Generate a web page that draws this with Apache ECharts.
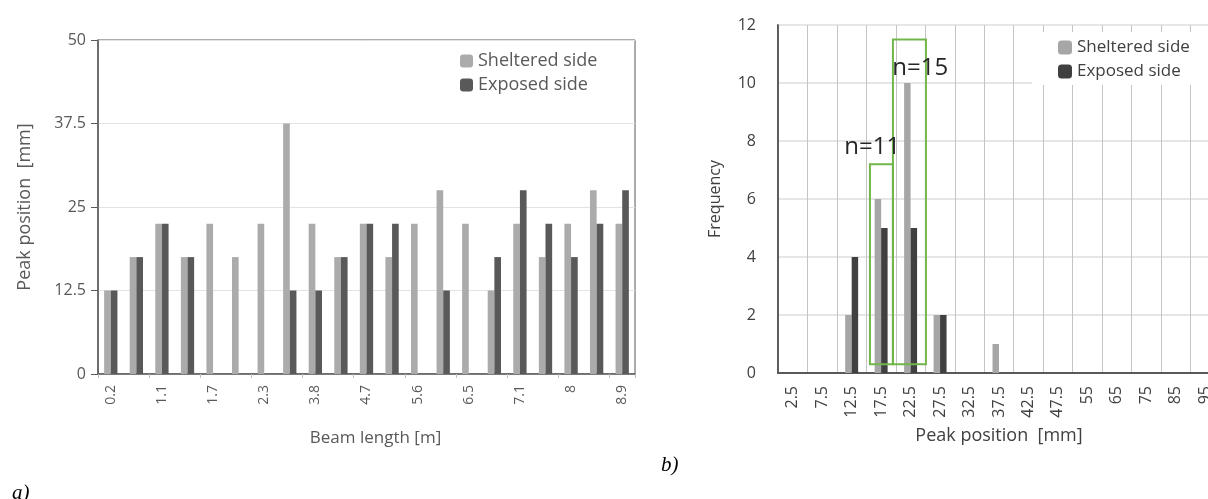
<!DOCTYPE html>
<html>
<head>
<meta charset="utf-8">
<script src="https://cdn.jsdelivr.net/npm/echarts@6/dist/echarts.min.js"></script>
<style>
html,body{margin:0;padding:0;background:#fff;}
#wrap{position:relative;width:1208px;height:499px;overflow:hidden;}
#a{position:absolute;left:0;top:0;width:650px;height:499px;}
#b{position:absolute;left:650px;top:0;width:570px;height:499px;}
</style>
</head>
<body>
<div id="wrap"><div id="a"></div><div id="b"></div></div>
<script>
// ---- Chart a) data ----
const beamLengths = ['0.2','0.5','1.1','1.4','1.7','2','2.3','3.5','3.8','4.1','4.7','5','5.6','5.9','6.5','6.8','7.1','7.7','8','8.3','8.9'];
const peakSheltered = [12.5,17.5,22.5,17.5,22.5,17.5,22.5,37.5,22.5,17.5,22.5,17.5,22.5,27.5,22.5,12.5,22.5,17.5,22.5,27.5,22.5];
const peakExposed   = [12.5,17.5,22.5,17.5,0,0,0,12.5,12.5,17.5,22.5,22.5,0,12.5,0,17.5,27.5,22.5,17.5,22.5,27.5];
const peakTicks = ['0','12.5','25','37.5','50'];

// ---- Chart b) data ----
const peakBins = ['2.5','7.5','12.5','17.5','22.5','27.5','32.5','37.5','42.5','47.5','55','65','75','85','95'];
const freqSheltered = [0,0,2,6,10,2,0,1,0,0,0,0,0,0,0];
const freqExposed   = [0,0,4,5,5,2,0,0,0,0,0,0,0,0,0];
// annotation boxes (x in bin-index units, y in frequency units)
const boxX0 = [3.12, 3.90];
const boxX1 = [3.90, 5.02];
const boxY0 = [0.3, 0.3];
const boxY1 = [7.2, 11.5];
const boxTextX = [2.25, 3.88];
const boxTextY = [7.8, 10.5];
const boxText = ['n=11', 'n=15'];

const FONT = '"Open Sans", "Noto Sans", sans-serif';

// ---------- Chart a ----------
const ca = echarts.init(document.getElementById('a'), null, {renderer:'canvas'});
ca.setOption({
  animation:false,
  title:{text:'a)', left:7, top:478, textStyle:{fontFamily:'"Liberation Serif", serif', fontStyle:'italic', fontWeight:'normal', fontSize:21, color:'#000'}},
  legend:{
    orient:'vertical', left:455, top:47, itemWidth:13, itemHeight:13, itemGap:6,
    textStyle:{fontFamily:FONT, fontSize:18, color:'#595959'},
    data:['Sheltered side','Exposed side']
  },
  grid:{left:98, right:15, top:40, bottom:125, show:true, borderColor:'#595959', borderWidth:1, backgroundColor:'transparent'},
  xAxis:{
    type:'category', data:beamLengths,
    name:'Beam length [m]', nameLocation:'middle', nameGap:56,
    nameTextStyle:{fontFamily:FONT, fontSize:17, color:'#595959', padding:[0,0,0,18]},
    axisLine:{lineStyle:{color:'#595959', width:1.5}},
    axisTick:{show:true, length:4, lineStyle:{color:'#bfbfbf'}},
    axisLabel:{interval:1, rotate:90, margin:11, fontFamily:FONT, fontSize:14, color:'#595959'},
    splitLine:{show:false}
  },
  yAxis:{
    type:'value', min:0, max:50, interval:12.5,
    name:'Peak position  [mm]', nameLocation:'middle', nameGap:64, nameRotate:90,
    nameTextStyle:{fontFamily:FONT, fontSize:18, color:'#595959'},
    axisLine:{show:true, lineStyle:{color:'#595959', width:1.5}},
    axisTick:{show:true, length:7, lineStyle:{color:'#595959'}},
    axisLabel:{margin:12, fontFamily:FONT, fontSize:16, color:'#595959',
      formatter:function(v){ const s = String(v); return peakTicks.indexOf(s) >= 0 ? s : ''; }},
    splitLine:{lineStyle:{color:'#e3e3e3', width:1}}
  },
  series:[
    {name:'Sheltered side', type:'bar', data:peakSheltered, barGap:'0%', barCategoryGap:'48%', itemStyle:{color:'#ababab'}},
    {name:'Exposed side', type:'bar', data:peakExposed, itemStyle:{color:'#595959'}}
  ]
});

// ---------- Chart b ----------
function boxData(){ return boxX0.map(function(x0,i){ return [x0, boxX1[i], boxY0[i], boxY1[i], boxTextX[i], boxTextY[i]]; }); }
const cb = echarts.init(document.getElementById('b'), null, {renderer:'canvas'});
cb.setOption({
  animation:false,
  title:{text:'b)', left:6, top:450, textStyle:{fontFamily:'"Liberation Serif", serif', fontStyle:'italic', fontWeight:'normal', fontSize:21, color:'#000'}},
  legend:{
    orient:'vertical', left:382, top:32, itemWidth:14, itemHeight:14, itemGap:7,
    padding:[7,60,5,26], backgroundColor:'#ffffff',
    textStyle:{fontFamily:FONT, fontSize:17, color:'#404040'},
    data:['Sheltered side','Exposed side']
  },
  grid:{left:128, right:0, top:25, bottom:126, show:true, borderColor:'#a6a6a6', borderWidth:2},
  xAxis:[{
    type:'category', data:peakBins,
    name:'Peak position  [mm]', nameLocation:'middle', nameGap:54,
    nameTextStyle:{fontFamily:FONT, fontSize:18, color:'#404040'},
    axisLine:{lineStyle:{color:'#595959', width:2}},
    axisTick:{show:false},
    axisLabel:{interval:0, rotate:90, margin:13, fontFamily:FONT, fontSize:16, color:'#404040'},
    splitLine:{show:true, interval:0, lineStyle:{color:'#c4c4c4', width:1}}
  },{
    type:'value', min:0, max:peakBins.length, show:false
  }],
  yAxis:{
    type:'value', min:0, max:12, interval:2,
    name:'Frequency', nameLocation:'middle', nameGap:55, nameRotate:90,
    nameTextStyle:{fontFamily:FONT, fontSize:16, color:'#404040'},
    axisLine:{show:true, lineStyle:{color:'#404040', width:1.5}},
    axisTick:{show:false},
    axisLabel:{margin:22, fontFamily:FONT, fontSize:16, color:'#404040'},
    splitLine:{lineStyle:{color:'#e6e6e6', width:2}}
  },
  series:[
    {name:'Sheltered side', type:'bar', data:freqSheltered, barGap:'0%', barCategoryGap:'56%', itemStyle:{color:'#a6a6a6'}},
    {name:'Exposed side', type:'bar', data:freqExposed, itemStyle:{color:'#404040'}},
    {
      type:'custom', xAxisIndex:1, yAxisIndex:0, z:5, silent:true,
      data: boxData(), encode:{x:[0,1], y:[2,3]},
      renderItem:function(params, api){
        const p0 = api.coord([api.value(0), api.value(3)]);
        const p1 = api.coord([api.value(1), api.value(2)]);
        return {type:'rect', shape:{x:p0[0], y:p0[1], width:p1[0]-p0[0], height:p1[1]-p0[1]},
            style:{fill:null, stroke:'#72b64b', lineWidth:2}};
      }
    },
    {
      type:'custom', xAxisIndex:1, yAxisIndex:0, z:6, silent:true,
      data: boxData(), encode:{x:[4], y:[5]},
      renderItem:function(params, api){
        const t = api.coord([api.value(4), api.value(5)]);
        return {type:'text', x:t[0], y:t[1],
            style:{text:boxText[params.dataIndex], fill:'#262626', font:'24px "Open Sans", sans-serif', textAlign:'left', textVerticalAlign:'middle'}};
      }
    }
  ]
});
</script>
</body>
</html>
